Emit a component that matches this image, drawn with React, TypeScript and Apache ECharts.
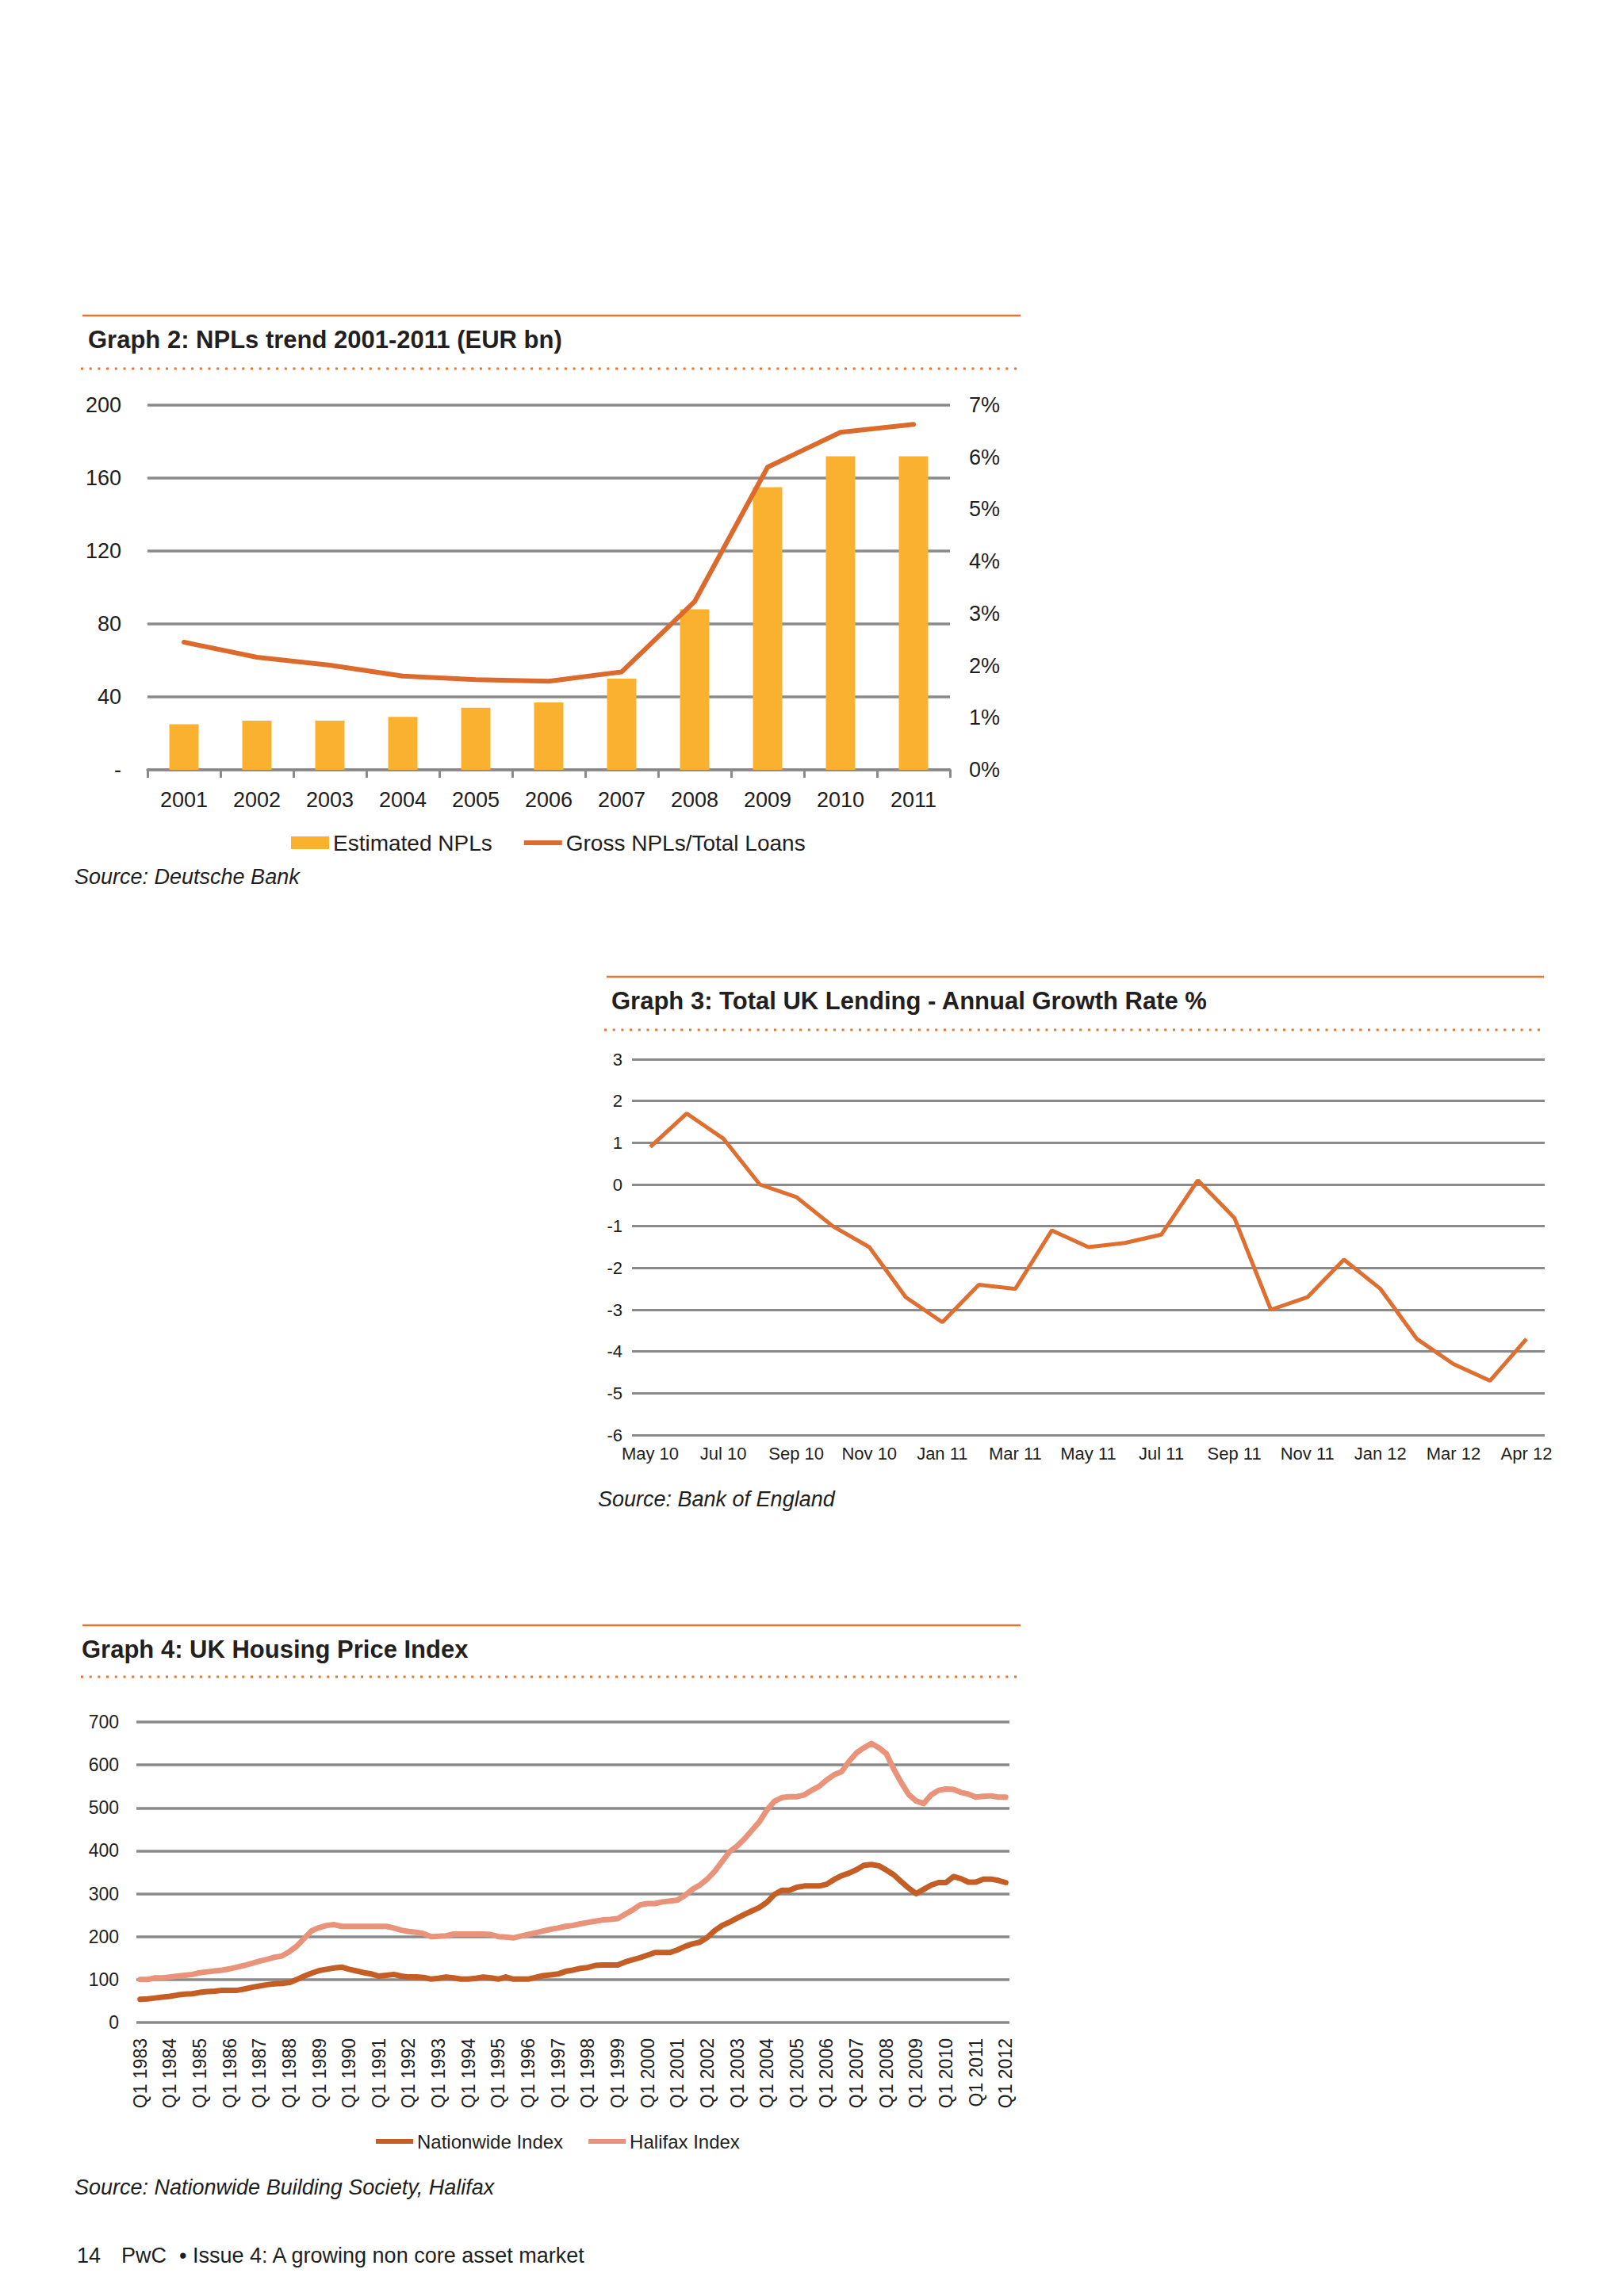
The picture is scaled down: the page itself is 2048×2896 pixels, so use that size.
import React, { useEffect, useRef } from "react";
import * as echarts from "echarts";

// Graph 2: NPLs trend
const nplYears = ["2001", "2002", "2003", "2004", "2005", "2006", "2007", "2008", "2009", "2010", "2011"];
const estimatedNpls = [25, 27, 27, 29, 34, 37, 50, 88, 155, 172, 172];
const grossNplRatio = [2.45, 2.16, 2.01, 1.8, 1.73, 1.7, 1.88, 3.23, 5.81, 6.48, 6.63];

// Graph 3: UK lending growth
const lendingMonths = [
  "May 10", "Jun 10", "Jul 10", "Aug 10", "Sep 10", "Oct 10", "Nov 10", "Dec 10",
  "Jan 11", "Feb 11", "Mar 11", "Apr 11", "May 11", "Jun 11", "Jul 11", "Aug 11",
  "Sep 11", "Oct 11", "Nov 11", "Dec 11", "Jan 12", "Feb 12", "Mar 12", "Apr 12", "May 12",
];
const lendingTickLabels = [
  "May 10", "Jul 10", "Sep 10", "Nov 10", "Jan 11", "Mar 11", "May 11",
  "Jul 11", "Sep 11", "Nov 11", "Jan 12", "Mar 12", "Apr 12",
];
const lendingGrowth = [
  0.9, 1.7, 1.1, 0.0, -0.3, -1.0, -1.5, -2.7, -3.3, -2.4, -2.5, -1.1, -1.5,
  -1.4, -1.2, 0.1, -0.8, -3.0, -2.7, -1.8, -2.5, -3.7, -4.3, -4.7, -3.7,
];

// Graph 4: housing price index, quarterly Q1 1983 - Q1 2012
const housingYears = [
  1983, 1984, 1985, 1986, 1987, 1988, 1989, 1990, 1991, 1992, 1993, 1994, 1995, 1996, 1997,
  1998, 1999, 2000, 2001, 2002, 2003, 2004, 2005, 2006, 2007, 2008, 2009, 2010, 2011, 2012,
];
const quarterLabels = housingYears
  .flatMap((y) => ["Q1 " + y, "Q2 " + y, "Q3 " + y, "Q4 " + y])
  .slice(0, 117);
const nationwideIndex = [
  54, 55, 57, 59, 61, 64, 66, 67, 70, 72, 73, 75, 75, 75, 78, 82, 85, 88, 90, 91,
  93, 100, 108, 115, 121, 124, 127, 129, 124, 120, 116, 113, 108, 110, 112, 108, 106, 106, 105, 101,
  103, 106, 104, 101, 101, 103, 106, 104, 101, 106, 101, 101, 101, 105, 109, 111, 113, 119, 122, 126,
  128, 133, 134, 134, 134, 141, 146, 151, 157, 163, 163, 163, 169, 177, 183, 187, 198, 214, 226, 234,
  243, 252, 260, 268, 280, 298, 308, 308, 315, 318, 318, 318, 322, 333, 342, 348, 356, 366, 368, 365,
  355, 344, 328, 313, 300, 310, 320, 326, 326, 340, 335, 327, 327, 334, 334, 331, 326,
];
const halifaxIndex = [
  100, 100, 104, 104, 106, 108, 110, 112, 116, 118, 120, 122, 125, 129, 133, 138, 143, 147, 152, 155,
  165, 178, 196, 214, 221, 226, 228, 224, 224, 224, 224, 224, 224, 224, 220, 215, 212, 210, 207, 200,
  201, 202, 206, 206, 206, 206, 206, 205, 200, 199, 197, 201, 205, 209, 213, 217, 220, 224, 226, 230,
  233, 236, 239, 240, 242, 252, 262, 274, 277, 277, 281, 283, 285, 296, 310, 320, 334, 352, 375, 398,
  411, 428, 448, 468, 495, 515, 524, 526, 526, 530, 541, 550, 565, 577, 584, 608, 628, 640, 650, 640,
  626, 590, 559, 531, 516, 510, 530, 541, 544, 543, 536, 532, 525, 527, 528, 525, 525,
];

const FONT = '"Liberation Sans", Arial, Helvetica, sans-serif';
const TEXT = "#1e1e1e";
const GRID_GRAY = "#8a8a8a";
const RULE = "#e8742f";

// legend line icons: a thin bar centred in the icon box
const lineIcon2 = "path://M0,0 M0,5 L48,5 L48,11 L0,11 Z M48,16";
const lineIcon4 = "path://M0,0 M0,4 L47,4 L47,10 L0,10 Z M47,14";

const rule = (x1: number, x2: number, y: number) => ({
  type: "line",
  shape: { x1, y1: y, x2, y2: y },
  style: { stroke: RULE, lineWidth: 2.5 },
});
const dots = (x1: number, x2: number, y: number) => ({
  type: "line",
  shape: { x1, y1: y, x2, y2: y },
  style: { stroke: RULE, lineWidth: 3, lineDash: [3, 7.7] },
});
const label = (text: string, x: number, y: number, font: string, fill = TEXT) => ({
  type: "text",
  x,
  y,
  style: { text, font, fill, align: "left", verticalAlign: "middle" },
});

const App = () => {
  const chartRef = useRef<HTMLDivElement>(null);

  useEffect(() => {
    if (!chartRef.current) return;
    const chart = echarts.init(chartRef.current, undefined, { renderer: "svg" });
    const axisText = (size: number) => ({ color: TEXT, fontSize: size, fontFamily: FONT });
    const split = (w: number) => ({ show: true, lineStyle: { color: GRID_GRAY, width: w } });

    const option = {
      animation: false,
      backgroundColor: "#ffffff",
      textStyle: { fontFamily: FONT },
      grid: [
        { left: 186, top: 511, width: 1012, height: 460 },
        { left: 797, top: 1336, width: 1151, height: 474 },
        { left: 172, top: 2172, width: 1101, height: 379 },
      ],
      legend: [
        {
          data: [
            { name: "Estimated NPLs", icon: "rect" },
            { name: "Gross NPLs/Total Loans", icon: lineIcon2 },
          ],
          left: 362,
          top: 1044,
          itemWidth: 48,
          itemHeight: 16,
          itemGap: 40,
          itemStyle: { borderWidth: 0 },
          textStyle: { ...axisText(28) },
        },
        {
          data: [
            { name: "Nationwide Index", icon: lineIcon4 },
            { name: "Halifax Index", icon: lineIcon4 },
          ],
          left: 469,
          top: 2684,
          itemWidth: 47,
          itemHeight: 14,
          itemGap: 32,
          itemStyle: { borderWidth: 0 },
          textStyle: { ...axisText(24) },
        },
      ],
      xAxis: [
        {
          type: "category",
          gridIndex: 0,
          data: nplYears,
          axisLine: { lineStyle: { color: GRID_GRAY, width: 3.5 } },
          axisTick: { show: true, length: 10, lineStyle: { color: GRID_GRAY, width: 3 } },
          axisLabel: { ...axisText(27), margin: 24 },
        },
        {
          type: "category",
          gridIndex: 1,
          data: lendingMonths,
          axisLine: { show: false },
          axisTick: { show: false },
          axisLabel: {
            ...axisText(22),
            margin: 12,
            interval: 1,
            formatter: (_v: string, i: number) => lendingTickLabels[i / 2] ?? "",
          },
        },
        {
          type: "category",
          gridIndex: 2,
          data: quarterLabels,
          axisLine: { show: false },
          axisTick: { show: false },
          axisLabel: { ...axisText(23), margin: 20, interval: 3, rotate: 90 },
        },
      ],
      yAxis: [
        {
          type: "value",
          gridIndex: 0,
          min: 0,
          max: 200,
          interval: 40,
          axisLine: { show: false },
          axisTick: { show: false },
          splitLine: split(3.5),
          axisLabel: {
            ...axisText(27),
            margin: 33,
            formatter: (v: number) => (v === 0 ? "-" : String(v)),
          },
        },
        {
          type: "value",
          gridIndex: 0,
          position: "right",
          min: 0,
          max: 7,
          interval: 1,
          axisLine: { show: false },
          axisTick: { show: false },
          splitLine: { show: false },
          axisLabel: { ...axisText(27), margin: 24, formatter: "{value}%" },
        },
        {
          type: "value",
          gridIndex: 1,
          min: -6,
          max: 3,
          interval: 1,
          axisLine: { show: false },
          axisTick: { show: false },
          splitLine: split(3),
          axisLabel: { ...axisText(22), margin: 12 },
        },
        {
          type: "value",
          gridIndex: 2,
          min: 0,
          max: 700,
          interval: 100,
          axisLine: { show: false },
          axisTick: { show: false },
          splitLine: split(3.5),
          axisLabel: { ...axisText(23), margin: 22 },
        },
      ],
      series: [
        {
          name: "Estimated NPLs",
          type: "bar",
          xAxisIndex: 0,
          yAxisIndex: 0,
          data: estimatedNpls,
          barWidth: 37,
          itemStyle: { color: "#fbb130" },
        },
        {
          name: "Gross NPLs/Total Loans",
          type: "line",
          xAxisIndex: 0,
          yAxisIndex: 1,
          data: grossNplRatio,
          symbol: "none",
          z: 5,
          color: "#dc6a2c",
          lineStyle: { color: "#dc6a2c", width: 6, cap: "round", join: "round" },
        },
        {
          name: "UK lending growth",
          type: "line",
          xAxisIndex: 1,
          yAxisIndex: 2,
          data: lendingGrowth,
          symbol: "none",
          color: "#de6f30",
          lineStyle: { color: "#de6f30", width: 5 },
        },
        {
          name: "Nationwide Index",
          type: "line",
          xAxisIndex: 2,
          yAxisIndex: 3,
          data: nationwideIndex,
          symbol: "none",
          color: "#c45e25",
          lineStyle: { color: "#c45e25", width: 7, cap: "round", join: "round" },
        },
        {
          name: "Halifax Index",
          type: "line",
          xAxisIndex: 2,
          yAxisIndex: 3,
          data: halifaxIndex,
          symbol: "none",
          color: "#e8937a",
          lineStyle: { color: "#e8937a", width: 7, cap: "round", join: "round" },
        },
      ],
      graphic: [
        rule(104, 1287, 398),
        label("Graph 2: NPLs trend 2001-2011 (EUR bn)", 111, 428, `bold 31px ${FONT}`, "#231f20"),
        dots(102, 1287, 465),
        label("Source: Deutsche Bank", 94, 1106, `italic 27px ${FONT}`),

        rule(765, 1947, 1232),
        label("Graph 3: Total UK Lending - Annual Growth Rate %", 771, 1262, `bold 31px ${FONT}`, "#231f20"),
        dots(762, 1947, 1299),
        label("Source: Bank of England", 754, 1891, `italic 27px ${FONT}`),

        rule(104, 1287, 2050),
        label("Graph 4: UK Housing Price Index", 103, 2080, `bold 31px ${FONT}`, "#231f20"),
        dots(102, 1287, 2115),
        label("Source: Nationwide Building Society, Halifax", 94, 2759, `italic 27px ${FONT}`),

        label("14", 97, 2845, `27px ${FONT}`),
        label("PwC", 153, 2845, `27px ${FONT}`),
        label("\u2022 Issue 4: A growing non core asset market", 226, 2845, `27px ${FONT}`),
      ],
    };

    chart.setOption(option as any);
    return () => {
      chart.dispose();
    };
  }, []);

  return (
    <div
      ref={chartRef}
      style={{ position: "absolute", left: 0, top: 0, width: 2048, height: 2896 }}
    ></div>
  );
};

export default App;
